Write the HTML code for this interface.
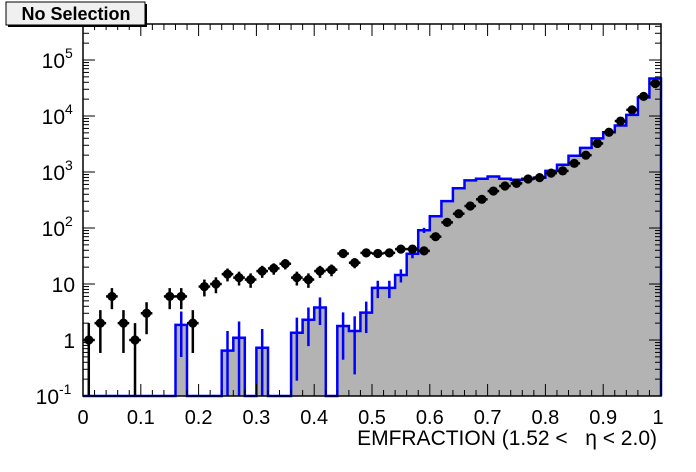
<!DOCTYPE html>
<html><head><meta charset="utf-8"><style>
html,body{margin:0;padding:0;background:#fff;width:696px;height:472px;overflow:hidden}
svg{display:block;font-family:"Liberation Sans",sans-serif}
</style></head><body>
<svg id="s" width="696" height="472" xmlns="http://www.w3.org/2000/svg"></svg>
<script>
const L=83,R=661,T=24,B=396;
const X=v=>L+(R-L)*v;
const Y=lg=>340-56*lg;
const blk=[1,2,6,2,1,3,0,6,6,2,9,10,15,13,12,17,19,23,13,12,17,18,35,24,36,35,36,42,42,39,70,126,180,247,325,457,562,627,750,794,955,1047,1429,1995,3236,5129,8128,12882,22387,38019];
const bl=[null,null,null,null,null,null,null,null,0.27,null,null,null,-0.19,0.04,null,-0.14,null,null,0.13,0.36,0.58,null,0.25,0.16,0.49,0.93,0.93,1.16,1.54,1.96,2.21,2.48,2.71,2.85,2.88,2.92,2.88,2.86,2.88,2.9,3.02,3.13,3.29,3.43,3.60,3.71,3.83,4.02,4.33,4.67];
let h='';
let d='M'+L+' '+B;
for(let i=0;i<50;i++){const y=bl[i]===null?B:Y(bl[i]);d+=' L'+X(i*0.02).toFixed(1)+' '+y.toFixed(1)+' L'+X((i+1)*0.02).toFixed(1)+' '+y.toFixed(1);}
d+=' L'+R+' '+B+' Z';
h+='<path d="'+d+'" fill="#b3b3b3"/>';
let o=d.replace(' Z','');
h+='<path d="'+o+'" fill="none" stroke="#0000ff" stroke-width="2.5"/>';
for(let i=0;i<30;i++){if(bl[i]===null)continue;const n=Math.pow(10,bl[i]);const s=Math.sqrt(n);
const y1=Y(Math.log10(n+s));const y2=n-s>0.1?Y(Math.log10(n-s)):B;const x=X(i*0.02+0.01);
h+='<line x1="'+x+'" x2="'+x+'" y1="'+y1+'" y2="'+y2+'" stroke="#0000ff" stroke-width="2.5"/>';}
for(let i=0;i<50;i++){const n=blk[i];if(!n)continue;const s=Math.sqrt(n);const x=X(i*0.02+0.01);const y=Y(Math.log10(n));
const y1=Y(Math.log10(n+s));const y2=n-s>0.1?Y(Math.log10(n-s)):B;
h+='<line x1="'+x+'" x2="'+x+'" y1="'+y1+'" y2="'+y2+'" stroke="#000" stroke-width="2.5"/>';
h+='<line x1="'+(x-5.8)+'" x2="'+(x+5.8)+'" y1="'+y+'" y2="'+y+'" stroke="#000" stroke-width="2.5"/>';
h+='<circle cx="'+x+'" cy="'+y+'" r="4.6" fill="#000"/>';}
h+='<rect x="'+L+'" y="'+T+'" width="'+(R-L)+'" height="'+(B-T)+'" fill="none" stroke="#000" stroke-width="1.5"/>';
for(let i=0;i<=50;i++){const x=X(i*0.02);const len=i%5==0?12:6;
h+='<line x1="'+x+'" x2="'+x+'" y1="'+B+'" y2="'+(B-len)+'" stroke="#000"/>';
h+='<line x1="'+x+'" x2="'+x+'" y1="'+T+'" y2="'+(T+len)+'" stroke="#000"/>';}
const xl=['0','0.1','0.2','0.3','0.4','0.5','0.6','0.7','0.8','0.9','1'];
xl.forEach((t,i)=>{h+='<text x="'+(X(i*0.1)+(i==10?-3:0))+'" y="424" font-size="20" text-anchor="middle">'+t+'</text>';});
for(let dcd=-1;dcd<=5;dcd++){for(let m=1;m<=9;m++){const lg=dcd+Math.log10(m);const y=Y(lg);if(y<T)continue;const len=m==1?12:6;
h+='<line x1="'+L+'" x2="'+(L+len)+'" y1="'+y+'" y2="'+y+'" stroke="#000"/>';
h+='<line x1="'+R+'" x2="'+(R-len)+'" y1="'+y+'" y2="'+y+'" stroke="#000"/>';}}
const yl=[[-1,'10','-1'],[0,'1',''],[1,'10',''],[2,'10','2'],[3,'10','3'],[4,'10','4'],[5,'10','5']];
yl.forEach(([lg,b,e])=>{const y=Y(lg)+8;
if(e){h+='<text x="'+(e=='-1'?59:65)+'" y="'+y+'" font-size="21" text-anchor="end">'+b+'</text><text x="'+(e=='-1'?59:65)+'" y="'+(y-10)+'" font-size="14">'+e+'</text>';}
else h+='<text x="75" y="'+y+'" font-size="21" text-anchor="end">'+b+'</text>';});
h+='<text x="657" y="445" font-size="21" text-anchor="end" xml:space="preserve">EMFRACTION (1.52 &lt;   η &lt; 2.0)</text>';
h+='<rect x="8" y="4" width="139" height="23" fill="#000"/><rect x="6" y="2" width="139" height="23" fill="#f0f0f0" stroke="#000" stroke-width="1"/>';
h+='<text x="76" y="20" font-size="18" font-weight="bold" text-anchor="middle">No Selection</text>';
document.getElementById('s').innerHTML=h;
</script>
</body></html>
